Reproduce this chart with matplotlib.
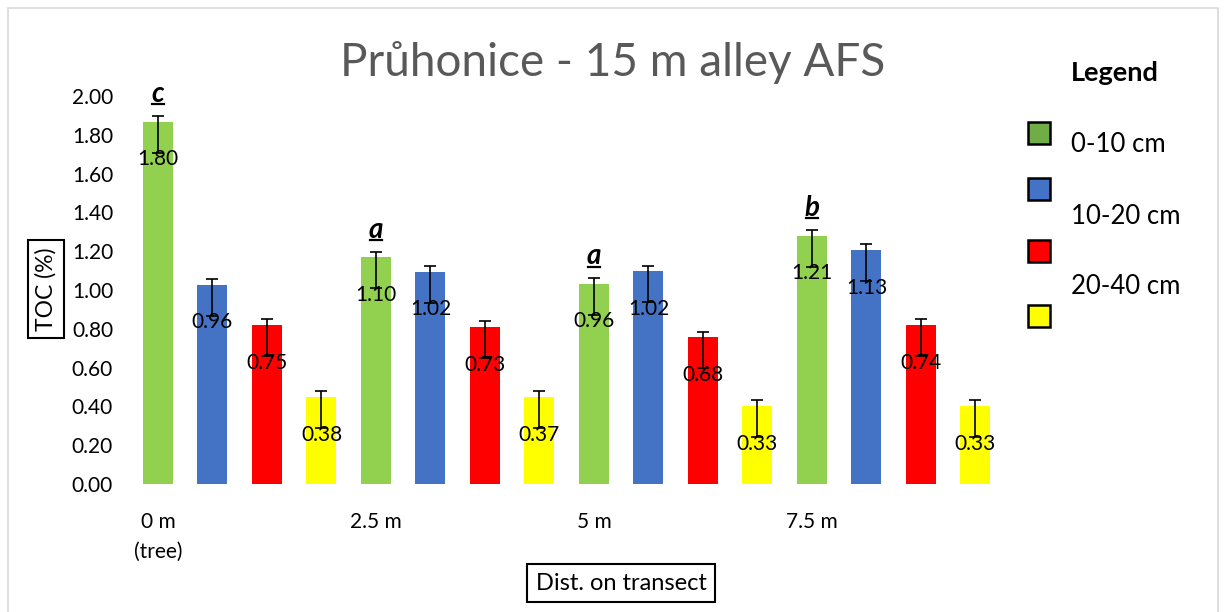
import numpy as np
import matplotlib
matplotlib.use('Agg')
import matplotlib.pyplot as plt
from matplotlib.patches import Rectangle
from matplotlib.transforms import ScaledTranslation

plt.rcParams['font.family'] = ['Lato', 'DejaVu Sans']

# Data (bar heights, plotted error caps, printed labels)
distances = ['0 m\n(tree)', '2.5 m', '5 m', '7.5 m']
depth_names = ['0-10 cm', '10-20 cm', '20-40 cm']

bar_0_10 = [1.867, 1.168, 1.031, 1.280]
bar_10_20 = [1.026, 1.094, 1.096, 1.204]
bar_20_40 = [0.818, 0.808, 0.756, 0.818]
bar_40 = [0.447, 0.448, 0.402, 0.402]

err_plus = [0.031, 0.030, 0.029, 0.031]
err_minus = [0.16, 0.16, 0.16, 0.16]

lab_0_10 = ['1.80', '1.10', '0.96', '1.21']
lab_10_20 = ['0.96', '1.02', '1.02', '1.13']
lab_20_40 = ['0.75', '0.73', '0.68', '0.74']
lab_40 = ['0.38', '0.37', '0.33', '0.33']

letters = ['c', 'a', 'a', 'b']

bar_colors = ['#92D050', '#4472C4', '#FF0000', '#FFFF00']
legend_colors = ['#70AD47', '#4472C4', '#FF0000', '#FFFF00']

fig = plt.figure(figsize=(12.24, 6.12), dpi=100)
ax = fig.add_axes([120 / 1224, 1 - 484 / 612, 880 / 1224, 388 / 612])

series = [bar_0_10, bar_10_20, bar_20_40, bar_40]
labels = [lab_0_10, lab_10_20, lab_20_40, lab_40]
n_groups = len(distances)
for s, (vals, labs) in enumerate(zip(series, labels)):
    xs = np.arange(n_groups) * 4 + s
    ax.bar(xs, vals, width=0.55, color=bar_colors[s], zorder=2)
    ax.errorbar(xs, vals, yerr=[err_minus, err_plus], fmt='none',
                ecolor='black', elinewidth=1.2, capsize=4.5, capthick=1.2, zorder=3)
    for x, v, t in zip(xs, vals, labs):
        ax.annotate(t, xy=(x, v), xytext=(0, -27), textcoords='offset points',
                    ha='center', va='center', fontsize=15, zorder=4)

# significance letters above the 0-10 cm bars
for g, let in enumerate(letters):
    x = g * 4
    top = bar_0_10[g] + err_plus[g]
    ax.annotate(let, xy=(x, top), xytext=(0, 10), textcoords='offset points',
                ha='center', va='baseline', fontsize=20, fontweight='bold',
                fontstyle='italic', annotation_clip=False)
    off = ScaledTranslation(0, 8.5 / 72, fig.dpi_scale_trans)
    ax.plot([x - 0.11, x + 0.11], [top, top], color='black', lw=1.6,
            transform=ax.transData + off, clip_on=False)

ax.set_xlim(-0.697, 15.45)
ax.set_ylim(0, 2.0)
ax.set_yticks(np.arange(0, 2.01, 0.2))
ax.set_yticklabels([f'{v:.2f}' for v in np.arange(0, 2.01, 0.2)], fontsize=15)
ax.set_xticks(np.arange(n_groups) * 4)
ax.set_xticklabels(distances, fontsize=15, linespacing=1.6)
ax.tick_params(axis='both', length=0)
ax.tick_params(axis='x', pad=20)
ax.tick_params(axis='y', pad=5)
for sp in ax.spines.values():
    sp.set_visible(False)

fig.text(613 / 1224, 1 - 62 / 612, 'Průhonice - 15 m alley AFS', ha='center',
         va='center', fontsize=33, color='#595959')

fig.text(46 / 1224, 1 - 289 / 612, 'TOC (%)', rotation=90, ha='center', va='center',
         fontsize=16.5, bbox=dict(boxstyle='square,pad=0.3', fc='white', ec='black', lw=1.5))
fig.text(621 / 1224, 1 - 583 / 612, 'Dist. on transect', ha='center', va='center',
         fontsize=17, bbox=dict(boxstyle='square,pad=0.35', fc='white', ec='black', lw=1.5))

# legend drawn by hand: title, squares, texts are offset like the original
fig.text(1071 / 1224, 1 - 73 / 612, 'Legend', ha='left', va='center',
         fontsize=19.5, fontweight='bold')
square_y = [133, 189, 251, 316]
for c, yy in zip(legend_colors, square_y):
    fig.patches.append(Rectangle((1028 / 1224, 1 - (yy + 11) / 612), 22 / 1224, 22 / 612,
                                 transform=fig.transFigure, fc=c, ec='black', lw=1.8))
for name, yy in zip(depth_names, [145, 216, 287]):
    fig.text(1071 / 1224, 1 - yy / 612, name, ha='left', va='center', fontsize=18.5)

fig.patches.append(Rectangle((8 / 1224, -0.05), 1210 / 1224, 1 - 8 / 612 + 0.05,
                             transform=fig.transFigure, fill=False, ec='#D9D9D9', lw=1.2))

fig.savefig('out.png', dpi=100)
